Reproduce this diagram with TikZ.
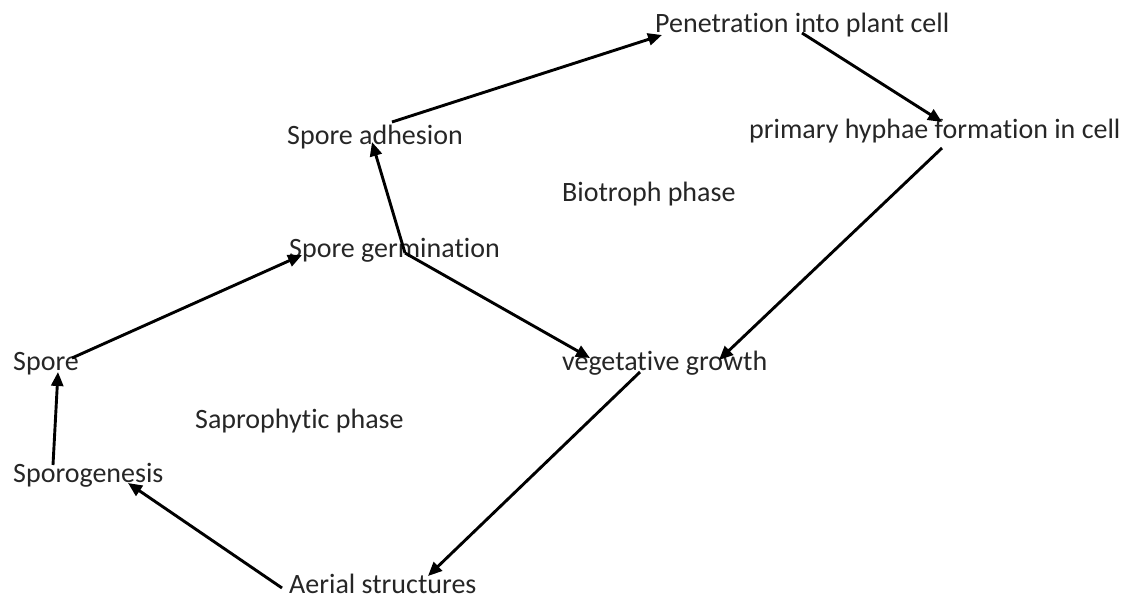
\documentclass[tikz,border=0pt]{standalone}
\usepackage{fontspec}
\setmainfont[Ligatures={NoCommon}]{Carlito}
\usetikzlibrary{arrows.meta}
\begin{document}
\begin{tikzpicture}[x=1pt,y=-1pt,
  lbl/.style={anchor=base west,inner sep=0pt,text=black!85,font=\fontsize{28}{34}\selectfont},
  arr/.style={line width=2.9pt,-{Triangle[length=14pt,width=12pt]}}]
\useasboundingbox (0,0) rectangle (1128,599);
\node[lbl] (pen) at (655,33) {Penetration into plant cell};
\node[lbl] (adh) at (287,145) {Spore adhesion};
\node[lbl] (hyp) at (749,139) {primary hyphae formation in cell};
\node[lbl] (bio) at (562,202) {Biotroph phase};
\node[lbl] (germ) at (289,257) {Spore germination};
\node[lbl] (spore) at (13,370) {Spore};
\node[lbl] (veg) at (562,370) {vegetative growth};
\node[lbl] (sap) at (195,428) {Saprophytic phase};
\node[lbl] (sporog) at (13,482) {Sporogenesis};
\node[lbl] (aer) at (289,593) {Aerial structures};
\draw[arr] ([shift={(59,-12)}]spore.base west) -- ([shift={(13,-2)}]germ.base west);
\draw[arr] ([shift={(40,-17)}]sporog.base west) -- ([shift={(45,2)}]spore.base west);
\draw[arr] ([shift={(-7,-5)}]aer.base west) -- ([shift={(115,1)}]sporog.base west);
\draw[arr] ([shift={(78,2)}]veg.base west) -- ([shift={(139,-17)}]aer.base west);
\draw[arr] ([shift={(116,-4)}]germ.base west) -- ([shift={(85,-3)}]adh.base west);
\draw[arr] ([shift={(116,-4)}]germ.base west) -- ([shift={(28,-12)}]veg.base west);
\draw[arr] ([shift={(105,-23)}]adh.base west) -- ([shift={(7,2)}]pen.base west);
\draw[arr] ([shift={(147,0)}]pen.base west) -- ([shift={(193,-17)}]hyp.base west);
\draw[arr] ([shift={(193,9)}]hyp.base west) -- ([shift={(157,-10)}]veg.base west);
\end{tikzpicture}
\end{document}
